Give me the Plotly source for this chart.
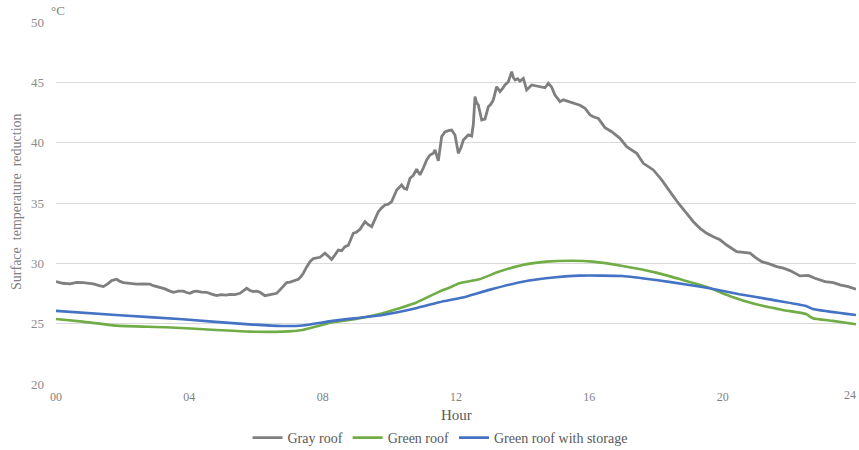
import plotly.graph_objects as go

# Surface temperature over one day (hour of day vs °C)
gray_hours = [
    0.00, 0.20, 0.42, 0.62, 0.82, 1.00, 1.12, 1.30, 1.42, 1.55, 1.67, 1.82, 1.92, 2.02,
    2.22, 2.42, 2.62, 2.82, 2.92, 3.02, 3.15, 3.27, 3.40, 3.52, 3.67, 3.82, 3.92, 4.02,
    4.12, 4.22, 4.37, 4.52, 4.67, 4.82, 4.95, 5.10, 5.22, 5.37, 5.52, 5.62, 5.72, 5.82,
    5.92, 6.02, 6.12, 6.27, 6.42, 6.52, 6.62, 6.72, 6.82, 6.92, 7.02, 7.17, 7.27, 7.35,
    7.42, 7.52, 7.62, 7.72, 7.82, 7.92, 8.07, 8.17, 8.27, 8.37, 8.47, 8.57, 8.67, 8.77,
    8.92, 9.02, 9.12, 9.27, 9.37, 9.47, 9.57, 9.67, 9.77, 9.87, 9.97, 10.07, 10.22, 10.30,
    10.37, 10.45, 10.52, 10.62, 10.72, 10.82, 10.92, 11.02, 11.12, 11.22, 11.32, 11.37,
    11.47, 11.57, 11.67, 11.77, 11.87, 11.97, 12.07, 12.15, 12.22, 12.37, 12.47, 12.52,
    12.57, 12.62, 12.67, 12.72, 12.77, 12.87, 12.97, 13.05, 13.12, 13.22, 13.32, 13.40,
    13.47, 13.57, 13.67, 13.72, 13.77, 13.85, 13.92, 14.02, 14.12, 14.27, 14.40, 14.52,
    14.67, 14.77, 14.87, 14.97, 15.12, 15.22, 15.37, 15.52, 15.72, 15.87, 16.02, 16.12,
    16.27, 16.47, 16.67, 16.92, 17.12, 17.42, 17.62, 17.92, 18.17, 18.42, 18.67, 18.92,
    19.12, 19.32, 19.52, 19.72, 19.92, 20.12, 20.42, 20.62, 20.82, 21.00, 21.17, 21.40,
    21.62, 21.82, 22.02, 22.32, 22.57, 22.77, 23.07, 23.32, 23.52, 23.77, 24.00,
]
gray_roof = [
    28.48, 28.35, 28.30, 28.42, 28.40, 28.32, 28.30, 28.15, 28.07, 28.30, 28.57, 28.68, 28.50, 28.40,
    28.32, 28.27, 28.30, 28.27, 28.15, 28.07, 28.00, 27.88, 27.72, 27.60, 27.70, 27.70, 27.58, 27.52,
    27.65, 27.70, 27.62, 27.60, 27.45, 27.32, 27.40, 27.36, 27.43, 27.40, 27.52, 27.70, 27.93, 27.75,
    27.66, 27.70, 27.60, 27.32, 27.38, 27.48, 27.52, 27.80, 28.07, 28.40, 28.45, 28.60, 28.68, 28.90,
    29.18, 29.70, 30.14, 30.40, 30.42, 30.50, 30.84, 30.60, 30.33, 30.70, 31.10, 31.05, 31.38, 31.50,
    32.49, 32.60, 32.82, 33.45, 33.20, 33.04, 33.60, 34.28, 34.60, 34.84, 34.90, 35.11, 36.08, 36.30,
    36.50, 36.20, 36.14, 37.05, 37.30, 37.80, 37.33, 37.90, 38.57, 38.98, 39.12, 39.40,
    38.50, 40.50, 40.90, 41.00, 41.05, 40.64, 39.12, 39.60, 40.22, 40.64, 40.55, 41.50,
    43.81, 43.30, 43.12, 42.50, 41.88, 41.95, 42.98, 43.20, 43.54, 44.64, 44.23, 44.50,
    44.78, 45.05, 45.88, 45.40, 45.19, 45.30, 45.10, 45.33, 44.37, 44.78, 44.70, 44.64,
    44.55, 44.92, 44.60, 43.95, 43.40, 43.55, 43.40, 43.26, 43.10, 42.85, 42.30, 42.15,
    42.00, 41.25, 40.91, 40.36, 39.67, 39.12, 38.29, 37.74, 36.91, 35.94, 34.98, 34.15,
    33.45, 32.90, 32.49, 32.21, 31.95, 31.52, 30.97, 30.90, 30.84, 30.45, 30.14, 29.95,
    29.73, 29.60, 29.40, 28.96, 29.00, 28.76, 28.48, 28.40, 28.21, 28.07, 27.85,
]

green_hours = [
    0.0, 0.8, 1.8, 3.3, 4.8, 5.8, 6.8, 7.4, 7.8, 8.3, 9.0, 9.8, 10.3, 10.8, 11.5, 11.8,
    12.1, 12.7, 13.3, 14.0, 14.7, 15.5, 16.1, 17.0, 18.0, 18.8, 19.5, 20.2, 21.0, 21.8,
    22.5, 22.7, 23.3, 24.0,
]
green_roof = [
    25.39, 25.17, 24.84, 24.70, 24.48, 24.34, 24.34, 24.48, 24.76, 25.12, 25.39, 25.86,
    26.28, 26.74, 27.66, 27.98, 28.35, 28.68, 29.32, 29.87, 30.14, 30.22, 30.14, 29.78,
    29.23, 28.62, 28.07, 27.30, 26.61, 26.14, 25.80, 25.45, 25.23, 24.95,
]

storage_hours = [
    0.0, 1.8, 3.8, 5.8, 6.8, 7.4, 8.3, 9.8, 10.8, 11.5, 12.3, 13.0, 14.0, 15.0, 15.7,
    17.0, 18.0, 19.0, 19.6, 20.5, 21.5, 22.5, 22.7, 24.0,
]
green_roof_storage = [
    26.06, 25.72, 25.36, 24.94, 24.81, 24.85, 25.23, 25.72, 26.28, 26.78, 27.24, 27.80,
    28.48, 28.84, 28.98, 28.95, 28.62, 28.21, 27.93, 27.44, 26.97, 26.47, 26.22, 25.72,
]

hour_ticks = [0, 4, 8, 12, 16, 20, 24]
hour_labels = ["00", "04", "08", "12", "16", "20", "24"]

FONT = "Liberation Serif"
TICK_GRAY = "#7f7f7f"

fig = go.Figure()
fig.add_trace(go.Scatter(x=gray_hours, y=gray_roof, mode="lines", name="Gray roof",
                         line=dict(color="#7f7f7f", width=2.8)))
fig.add_trace(go.Scatter(x=green_hours, y=green_roof, mode="lines", name="Green roof",
                         line=dict(color="#70ad47", width=2.6, shape="spline", smoothing=0.5)))
fig.add_trace(go.Scatter(x=storage_hours, y=green_roof_storage, mode="lines",
                         name="Green roof with storage",
                         line=dict(color="#4472c4", width=2.6, shape="spline", smoothing=0.5)))

# the last hour label sits against the right edge of the page, so it is placed as text
edge_label = dict(text=hour_labels[-1], xref="x", yref="paper", x=hour_ticks[-1], y=-0.031,
                  xanchor="right", xshift=2, yanchor="middle", showarrow=False,
                  font=dict(family=FONT, size=12, color=TICK_GRAY))

fig.update_layout(
    width=859, height=450,
    margin=dict(l=56, r=3, t=22, b=66, autoexpand=False),
    paper_bgcolor="white", plot_bgcolor="white",
    font=dict(family=FONT, color="#595959"),
    showlegend=True,
    legend=dict(orientation="h", x=0.48, xanchor="center",
                yref="container", y=1 - 438 / 450, yanchor="middle",
                font=dict(family=FONT, size=14, color="#595959"),
                itemwidth=30, tracegroupgap=0),
    xaxis=dict(range=[0, 24], tickvals=hour_ticks[:-1], ticktext=hour_labels[:-1],
               showgrid=False, zeroline=False, showline=False, ticklabelstandoff=4,
               tickfont=dict(family=FONT, size=12, color=TICK_GRAY)),
    yaxis=dict(range=[20, 50], dtick=5, showgrid=True, gridcolor="#d9d9d9", gridwidth=1,
               zeroline=False, showline=False, ticklabelstandoff=11,
               tickfont=dict(family=FONT, size=13, color="#8c8c8c")),
    annotations=[
        edge_label,
        dict(text="Hour", xref="paper", yref="paper", x=0.5, y=-0.0856,
             xanchor="center", yanchor="middle", showarrow=False,
             font=dict(family=FONT, size=15, color="#595959")),
        dict(text="Surface  temperature  reduction", xref="paper", yref="paper",
             x=-0.0487, y=0.503, xanchor="center", yanchor="middle", textangle=-90,
             showarrow=False, font=dict(family=FONT, size=14, color="#7f7f7f")),
        dict(text="°C", xref="paper", yref="paper", x=0.0025, y=1.033,
             xanchor="center", yanchor="middle", showarrow=False,
             font=dict(family=FONT, size=13, color="#7f7f7f")),
    ],
)

fig.write_html("out.html")
